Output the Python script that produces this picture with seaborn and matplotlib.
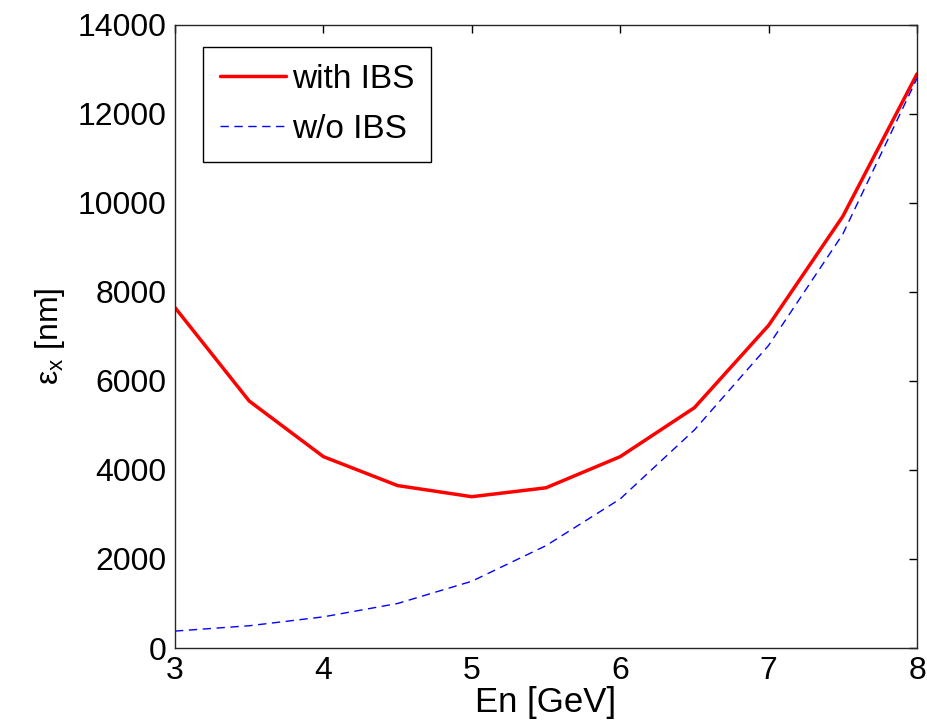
import matplotlib
matplotlib.use("Agg")
import matplotlib.pyplot as plt
import seaborn as sns
import pandas as pd

energy = [3.0, 3.5, 4.0, 4.5, 5.0, 5.5, 6.0, 6.5, 7.0, 7.5, 8.0]
with_ibs = [7650, 5550, 4300, 3650, 3400, 3600, 4300, 5400, 7250, 9700, 12900]
without_ibs = [380, 500, 700, 1000, 1500, 2300, 3350, 4900, 6800, 9300, 12800]
xticks = [3, 4, 5, 6, 7, 8]
yticks = [0, 2000, 4000, 6000, 8000, 10000, 12000, 14000]

sns.set_style("white")
plt.rcParams['font.family'] = ['Liberation Sans', 'DejaVu Sans']
plt.rcParams['mathtext.fontset'] = 'custom'
plt.rcParams['mathtext.rm'] = 'Liberation Sans'
plt.rcParams['mathtext.it'] = 'Liberation Sans'
plt.rcParams['text.color'] = 'black'
plt.rcParams['axes.labelcolor'] = 'black'

df = pd.DataFrame({"En": energy, "with": with_ibs, "without": without_ibs})

fig = plt.figure(figsize=(9.27, 7.28), dpi=100)
ax = fig.add_axes([175/927, 1-648/728, 742/927, 623/728])

sns.lineplot(data=df, x="En", y="with", ax=ax, color="#ff0000", linewidth=2.5,
             label="with IBS")
sns.lineplot(data=df, x="En", y="without", ax=ax, color="#0000ff", linewidth=1.0,
             dashes=False, label="w/o IBS")
ax.lines[1].set_linestyle((0, (6, 4)))

ax.set_xlim(3, 8)
ax.set_ylim(0, 14000)
ax.set_xticks(xticks)
ax.set_yticks(yticks)
ax.tick_params(direction="in", length=6, width=1, top=True, right=True,
               labelsize=23, pad=6, colors="black")
for s in ax.spines.values():
    s.set_visible(True)
    s.set_color("#262626")
    s.set_linewidth(1.0)

ax.set_xlabel("En [GeV]", fontsize=25, labelpad=0, color="black")
ax.set_ylabel(r"ε$_{\mathrm{x}}$ [nm]", fontsize=23, labelpad=8, color="black")

leg = ax.legend(loc="upper left", bbox_to_anchor=(28/742, (648-47)/623),
                borderaxespad=0, fancybox=False, edgecolor="black",
                fontsize=24, handlelength=2.0, handletextpad=0.18,
                labelspacing=0.58, borderpad=0.5, framealpha=1)
leg.get_frame().set_linewidth(1.0)
for t in leg.get_texts():
    t.set_color("black")

fig.savefig("out.png", dpi=100)
